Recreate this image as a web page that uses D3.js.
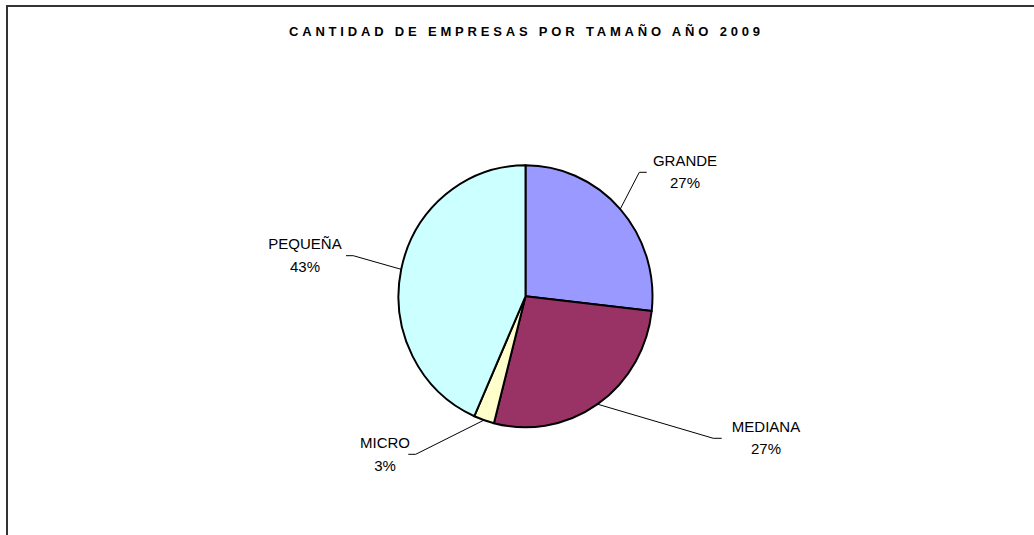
<!DOCTYPE html>
<html>
<head>
<meta charset="utf-8">
<script src="https://cdn.jsdelivr.net/npm/d3@7"></script>
<style>
  html, body { margin: 0; padding: 0; background: #fff; }
  svg { display: block; }
  text { font-family: Arial, "Liberation Sans", sans-serif; }
</style>
</head>
<body>
<svg id="chart" width="1034" height="535"></svg>
<script>
// ---- data ----
const categories = ["GRANDE", "MEDIANA", "MICRO", "PEQUEÑA"];
const values = [26.8, 27.2, 2.6, 43.4];
const colors = ["#9999FF", "#993366", "#FFFFCC", "#CCFFFF"];
const title = "CANTIDAD DE EMPRESAS POR TAMAÑO AÑO 2009";

// ---- layout (not data) ----
const W = 1034, H = 535;
const cx = 525.5, cy = 296.3, R = 129, sx = 127 / 129, sy = 131 / 129;
const labelLayout = {
  "GRANDE":  { elbow: [639.3, 172.3], end: [646.7, 172.3], tx: 685, ty: 165.7 },
  "MEDIANA": { elbow: [713.3, 438.3], end: [721.7, 438.3], tx: 766, ty: 431.7 },
  "MICRO":   { elbow: [415.7, 454.3], end: [408.3, 454.3], tx: 385, ty: 448.3 },
  "PEQUEÑA": { elbow: [353.3, 255.7], end: [346.0, 255.7], tx: 305, ty: 249.3 }
};

const svg = d3.select("#chart");

// frame
svg.append("path")
  .attr("d", `M7,${H} L7,6 L${W},6`)
  .attr("fill", "none").attr("stroke", "#333").attr("stroke-width", 2);

// title
svg.append("text")
  .attr("x", 524.5).attr("y", 36)
  .attr("text-anchor", "middle")
  .attr("font-size", 13).attr("font-weight", "bold")
  .attr("textLength", 471).attr("lengthAdjust", "spacing")
  .text(title);

const data = categories.map((c, i) => ({ cat: c, value: values[i], color: colors[i] }));
const total = d3.sum(values);
const pie = d3.pie().sort(null).value(d => d.value);
const arcs = pie(data);
const arc = d3.arc().innerRadius(0).outerRadius(R);

const g = svg.append("g").attr("transform", `translate(${cx},${cy}) scale(${sx},${sy})`);
g.selectAll("path.slice").data(arcs).enter().append("path")
  .attr("class", "slice")
  .attr("d", arc)
  .attr("fill", d => d.data.color)
  .attr("stroke", "#000")
  .attr("stroke-width", 2 / ((sx + sy) / 2))
  .attr("stroke-linejoin", "round");

// labels + leader lines
const fmt = v => Math.round(v / total * 100) + "%";
arcs.forEach(a => {
  const mid = (a.startAngle + a.endAngle) / 2;
  const px = cx + R * sx * Math.sin(mid);
  const py = cy - R * sy * Math.cos(mid);
  const L = labelLayout[a.data.cat];
  svg.append("path")
    .attr("d", `M${px},${py} L${L.elbow[0]},${L.elbow[1]} L${L.end[0]},${L.end[1]}`)
    .attr("fill", "none").attr("stroke", "#000").attr("stroke-width", 1);
  const t = svg.append("text")
    .attr("x", L.tx).attr("y", L.ty)
    .attr("text-anchor", "middle")
    .attr("font-size", 15).attr("fill", "#000");
  t.append("tspan").attr("x", L.tx).attr("y", L.ty).text(a.data.cat);
  t.append("tspan").attr("x", L.tx).attr("y", L.ty + 22.4).text(fmt(a.data.value));
});
</script>
</body>
</html>
